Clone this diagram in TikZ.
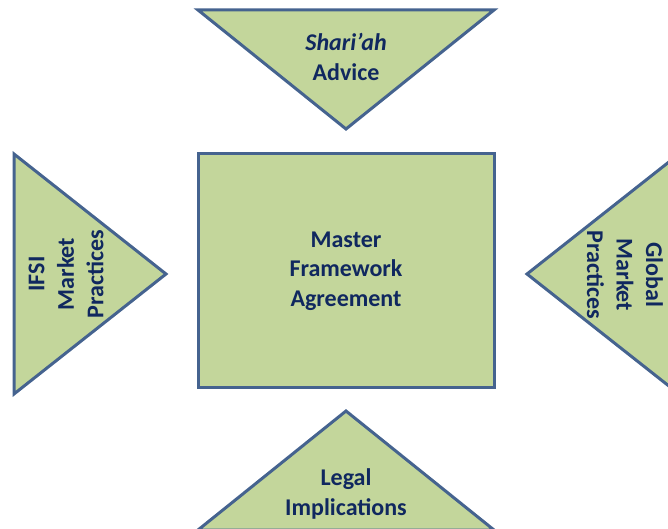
\documentclass[tikz,border=0pt]{standalone}
\usepackage{fontspec}
\setmainfont{Carlito}
\definecolor{shapefill}{HTML}{C3D69B}
\definecolor{shapeline}{HTML}{45638F}
\definecolor{labeltext}{HTML}{10285F}
\tikzset{
  part/.style={draw=shapeline, fill=shapefill, line width=3pt, line join=miter},
  lbl/.style={text=labeltext, align=center, font=\bfseries\fontsize{24}{29.5}\selectfont}
}

\begin{document}
\begin{tikzpicture}[x=1pt, y=1pt]
\useasboundingbox (0,0) rectangle (668,528);
\clip (0,0) rectangle (668,528);
% shapes
\draw[part] (198,518) -- (494,518) -- (346,399) -- cycle;
\draw[part] (14,374) -- (14,134) -- (166,254) -- cycle;
\draw[part] (679,374) -- (679,134) -- (527,254) -- cycle;
\draw[part] (198,-2) -- (494,-2) -- (346,117) -- cycle;
\draw[part] (198,374) rectangle (494,141);
% labels
\node[lbl] (advice) at (346,471) {\textit{Shari'ah}\\Advice};
\node[lbl, rotate=90] (ifsi) at (66,254) {IFSI\\Market\\Practices};
\node[lbl, rotate=-90] (global) at (625,253) {Global\\Market\\Practices};
\node[lbl] (mfa) at (346,257) {Master\\Framework\\Agreement};
\node[lbl] (legal) at (346,34) {Legal\\Implications};
\end{tikzpicture}
\end{document}
